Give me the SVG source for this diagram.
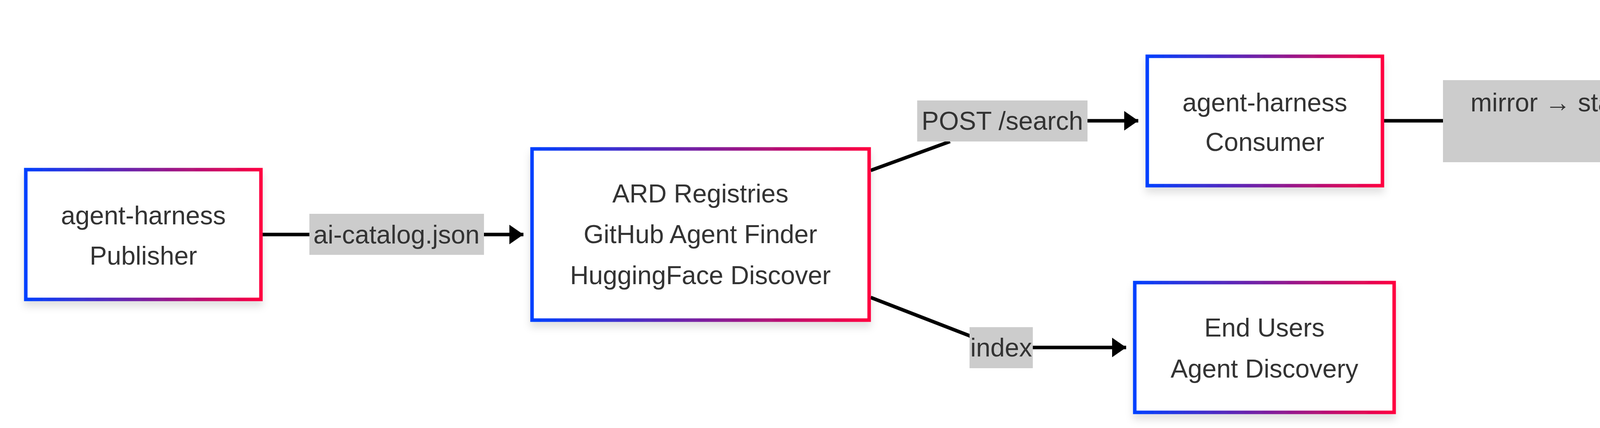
<svg xmlns="http://www.w3.org/2000/svg" width="6025" height="1095" viewBox="0 0 6025 1095">
<defs>
<linearGradient id="g" x1="0" y1="0" x2="1" y2="0"><stop offset="0" stop-color="#0040ff"/><stop offset="0.5" stop-color="#7a1fa0"/><stop offset="1" stop-color="#ff0040"/></linearGradient>
<filter id="sh" x="-10%" y="-10%" width="120%" height="130%"><feDropShadow dx="0" dy="14" stdDeviation="10" flood-color="#000" flood-opacity="0.12"/></filter>
<marker id="ah" markerUnits="userSpaceOnUse" markerWidth="40" markerHeight="50" refX="36" refY="25" orient="auto"><path d="M0,0 L36,25 L0,50 z" fill="#000"/></marker>
</defs>
<style>
.n{fill:#fff;stroke:url(#g);stroke-width:9;filter:url(#sh)}
.t{font-family:"Liberation Sans",Arial,sans-serif;font-size:66px;fill:#333;text-anchor:middle;dominant-baseline:central}
.lb{fill:#cccccc}
.c{fill:none;stroke:#000;stroke-width:9}
</style>
<rect width="6025" height="1095" fill="#fff"/>
<g id="connectors">
<path class="c" d="M672,600 H1340" marker-end="url(#ah)"/>
<path class="c" d="M2229,436 L2432,362 M2432,309 H2914" marker-end="url(#ah)"/>
<path class="c" d="M3543,309 H4786" marker-end="url(#ah)"/>
<path class="c" d="M2229,761 L2482,859 Q2520,889 2580,889 H2883" marker-end="url(#ah)"/>
<rect class="lb" x="792" y="547" width="447" height="105"/>
<text class="t" x="1015" y="600">ai-catalog.json</text>
<rect class="lb" x="2348" y="257" width="436" height="105"/>
<text class="t" x="2566" y="309">POST /search</text>
<rect class="lb" x="3694" y="205" width="992" height="210"/>
<text class="t" x="4190" y="262">mirror → stage → activate →</text>
<text class="t" x="4190" y="363">wire</text>
<rect class="lb" x="2482" y="837" width="162" height="105"/>
<text class="t" x="2563" y="889">index</text>
</g>
<g id="publisher"><rect class="n" x="66" y="434" width="602" height="332"/>
<text class="t" x="367" y="551">agent-harness</text><text class="t" x="367" y="654">Publisher</text></g>
<g id="ard"><rect class="n" x="1362" y="381" width="863" height="438"/>
<text class="t" x="1793" y="495">ARD Registries</text><text class="t" x="1793" y="599">GitHub Agent Finder</text><text class="t" x="1793" y="704">HuggingFace Discover</text></g>
<g id="consumer"><rect class="n" x="2937" y="144" width="602" height="331"/>
<text class="t" x="3238" y="262">agent-harness</text><text class="t" x="3238" y="363">Consumer</text></g>
<g id="endusers"><rect class="n" x="2905" y="723" width="664" height="332"/>
<text class="t" x="3237" y="838">End Users</text><text class="t" x="3237" y="943">Agent Discovery</text></g>
<g id="hostides"><rect class="n" x="4808" y="39" width="1152" height="541"/>
<text class="t" x="5384" y="150">Host IDEs</text><text class="t" x="5384" y="257">VS Code, Cursor, Zed,</text><text class="t" x="5384" y="362">Claude Code, OpenCode, Pi,</text><text class="t" x="5384" y="467">Codex</text></g>
</svg>
